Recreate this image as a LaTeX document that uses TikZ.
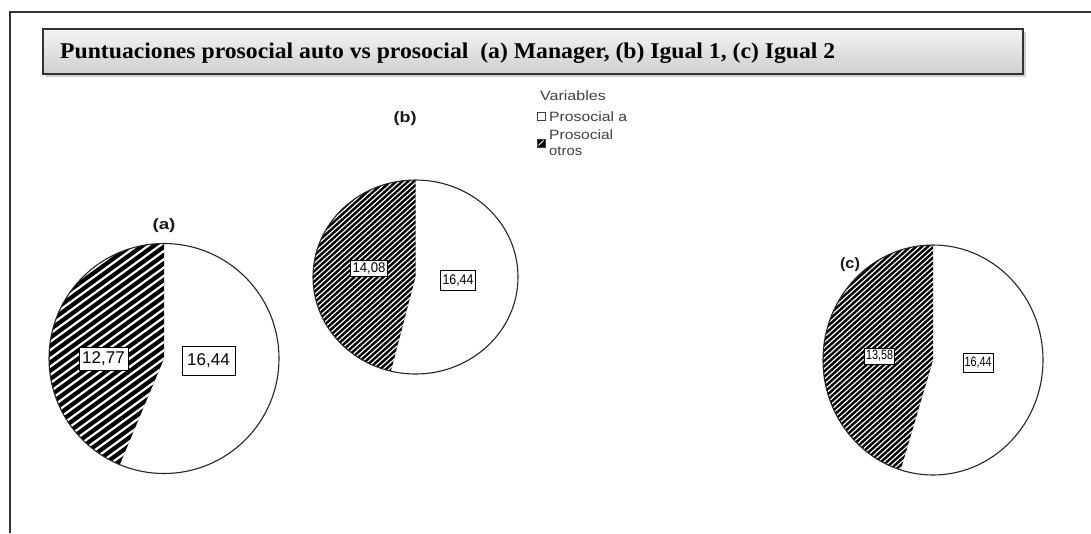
\documentclass[tikz,border=0pt]{standalone}
\usepackage{fontspec}
\setmainfont{Liberation Serif}
\newfontfamily\arialf{Liberation Sans}
\usetikzlibrary{calc,shadows}
\newcommand{\hslice}[8]{%
  \fill[black] (#1,#2) -- ++(0,#4) arc[start angle=90,end angle=#5,x radius=#3pt,y radius=#4pt] -- cycle;
  \begin{scope}
    \clip (#1,#2) -- ++(0,#4) arc[start angle=90,end angle=#5,x radius=#3pt,y radius=#4pt] -- cycle;
    \foreach \k in {-36,...,36}{
      \draw[white,line width=#7pt] ($(#1,#2)+({#8+90}:{\k*#6})$) ++(#8:-320) -- ++(#8:640);
    }
  \end{scope}
}
\tikzset{
  pieline/.style={draw=black!85,line width=1.1pt},
  valbox/.style={draw=black,fill=white,line width=0.9pt,inner sep=0pt,font=\arialf},
  charttitle/.style={font=\arialf\bfseries,inner sep=0pt,text=black!90},
  legtext/.style={font=\arialf,inner sep=0pt,text=black!75},
  legsq/.style={draw=black!75,line width=0.9pt},
}
\begin{document}
\begin{tikzpicture}[x=1pt,y=1pt]
\useasboundingbox[fill=white] (0,0) rectangle (1091,-533);
% outer frame
\draw[line width=1.5pt,black!80] (10,-533) -- (10,-12) -- (1091,-12);
% title box
\node[draw=black!80,line width=1.4pt,minimum width=980pt,minimum height=45pt,inner sep=0pt,
      top color=gray!8,bottom color=gray!38,
      drop shadow={shadow xshift=3pt,shadow yshift=-3pt,fill=gray!45,opacity=0.8}]
  (titlebox) at (533,-51.5) {};
\node[anchor=base west,inner sep=0pt,text=black] (title) at (60,-58)
  {\resizebox{775pt}{\height}{\fontsize{22.5}{26}\selectfont\bfseries Puntuaciones prosocial auto vs prosocial~ (a) Manager, (b) Igual 1, (c) Igual 2}};
% legend
\node[legtext] (legtitle) at (573,-96) {\resizebox{66pt}{\height}{\fontsize{13.5}{15}\selectfont Variables}};
\draw[legsq,fill=white] (537,-112) rectangle (545,-120);
\node[legtext,anchor=west] (leg1) at (549,-116.5) {\resizebox{78pt}{\height}{\fontsize{13.5}{15}\selectfont Prosocial a}};
\draw[legsq,fill=black] (537,-139) rectangle (545,-147);
\draw[white,line width=1pt] (538.5,-145.5) -- (543.5,-140.5);
\node[legtext,anchor=west] (leg2a) at (549,-135) {\resizebox{64pt}{\height}{\fontsize{13.5}{15}\selectfont Prosocial}};
\node[legtext,anchor=west] (leg2b) at (549,-151) {\resizebox{33pt}{\height}{\fontsize{13.5}{15}\selectfont otros}};
% pie (a)
\coordinate (ca) at (164,-358.5);
\hslice{164}{-358.5}{115}{115}{247.4}{6.7}{2.2}{36}
\draw[pieline] (ca) ellipse[x radius=115pt,y radius=115pt];
\node[charttitle] (ta) at (164,-225.5) {\resizebox{23pt}{\height}{\fontsize{15}{17}\selectfont (a)}};
\node[valbox,minimum width=49pt,minimum height=23pt] (va1) at (103.5,-358.5) {\fontsize{17}{19}\selectfont 12,77};
\node[valbox,minimum width=53pt,minimum height=29pt] (va2) at (208.5,-360.5) {\fontsize{17}{19}\selectfont 16,44};
% pie (b)
\coordinate (cb) at (415.5,-277);
\hslice{415.5}{-277}{102.5}{97}{256.1}{3.9}{1.2}{42}
\draw[pieline] (cb) ellipse[x radius=102.5pt,y radius=97pt];
\node[charttitle] (tb) at (405,-119) {\resizebox{23pt}{\height}{\fontsize{15}{17}\selectfont (b)}};
\node[valbox,minimum width=37pt,minimum height=16pt] (vb1) at (369,-268.5) {\resizebox{33pt}{\height}{\fontsize{14}{16}\selectfont 14,08}};
\node[valbox,minimum width=35pt,minimum height=20pt,line width=1.1pt] (vb2) at (458,-280.5) {\resizebox{31pt}{\height}{\fontsize{14}{16}\selectfont 16,44}};
% pie (c)
\coordinate (cc) at (933,-360);
\hslice{933}{-360}{110}{115}{252.9}{3.9}{1.2}{42}
\draw[pieline] (cc) ellipse[x radius=110pt,y radius=115pt];
\node[charttitle] (tc) at (850,-265) {\resizebox{20pt}{\height}{\fontsize{15}{17}\selectfont (c)}};
\node[valbox,minimum width=30pt,minimum height=16pt] (vc1) at (879.5,-356) {\resizebox{27pt}{\height}{\fontsize{13.5}{15}\selectfont 13,58}};
\node[valbox,minimum width=30pt,minimum height=19pt,line width=1pt] (vc2) at (978,-362.5) {\resizebox{27pt}{\height}{\fontsize{13.5}{15}\selectfont 16,44}};
\end{tikzpicture}
\end{document}
